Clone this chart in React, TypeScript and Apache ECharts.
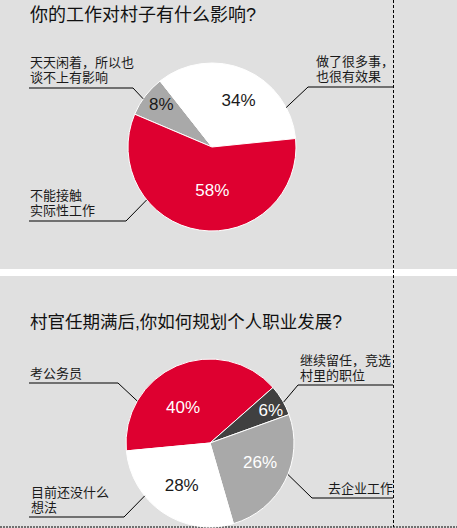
import { useEffect, useRef } from "react";
import * as echarts from "echarts";

// 第一题
const title1 = "你的工作对村子有什么影响?";
const names1 = ["天天闲着，所以也\n谈不上有影响", "做了很多事，\n也很有效果", "不能接触\n实际性工作"];
const values1 = [8, 34, 58];
const colors1 = ["#a9a9a9", "#ffffff", "#de0030"];
const pctColors1 = ["#1a1a1a", "#1a1a1a", "#ffffff"];

// 第二题
const title2 = "村官任期满后,你如何规划个人职业发展?";
const names2 = ["考公务员", "继续留任，竞选\n村里的职位", "去企业工作", "目前还没什么\n想法"];
const values2 = [40, 6, 26, 28];
const colors2 = ["#de0030", "#404040", "#a9a9a9", "#ffffff"];
const pctColors2 = ["#ffffff", "#ffffff", "#ffffff", "#1a1a1a"];

const FONT = '"Liberation Sans", "Noto Sans CJK SC", sans-serif';
const R = 84;

// 引线布局：锚点角度、折点、终点、文字左边位置与底边
const leaders1 = [
  { angle: 145, elbow: [133, 88], end: 29, x: 30, bottom: 85 },
  { angle: 28, elbow: [308, 87], end: 393, x: 316, bottom: 84 },
  { angle: 219, elbow: [126, 221], end: 29, x: 30, bottom: 218 },
];
const leaders2 = [
  { angle: 150, elbow: [118, 383], end: 29, x: 30, bottom: 381 },
  { angle: 29, elbow: [298, 385], end: 393, x: 300, bottom: 383 },
  { angle: -22, elbow: [312, 498], end: 393, x: 328, bottom: 496 },
  { angle: 219, elbow: [124, 517], end: 29, x: 31, bottom: 515 },
];
const pctOffsets1 = [[-15, -15], [9, -5], [7, -1]];
const pctOffsets2 = [[-9, 6], [22, -10], [10, -1], [-3, 5]];

function leaderLayout(center: number[], leaders: any[]) {
  return (p: any) => {
    const L = leaders[p.dataIndex];
    const a = (L.angle * Math.PI) / 180;
    const ax = center[0] + R * Math.cos(a);
    const ay = center[1] - R * Math.sin(a);
    return {
      x: L.x,
      y: L.bottom,
      align: "left",
      verticalAlign: "bottom",
      labelLinePoints: [[ax, ay], L.elbow, [L.end, L.elbow[1]]],
    };
  };
}

function pctLayout(offsets: number[][]) {
  return (p: any) => {
    const o = offsets[p.dataIndex];
    const r = p.labelRect;
    return {
      x: r.x + r.width / 2 + o[0],
      y: r.y + r.height / 2 + o[1],
      align: "center",
      verticalAlign: "middle",
    };
  };
}

function pieSeries(
  center: number[],
  startAngle: number,
  names: string[],
  values: number[],
  colors: string[],
  pctColors: string[],
  leaders: any[],
  offsets: number[][]
) {
  return [
    {
      type: "pie",
      center,
      radius: R,
      startAngle,
      clockwise: true,
      silent: true,
      avoidLabelOverlap: false,
      data: values.map((v, i) => ({
        name: names[i],
        value: v,
        itemStyle: { color: colors[i] },
        label: { color: pctColors[i] },
      })),
      itemStyle: { borderColor: "#ffffff", borderWidth: 1 },
      label: {
        show: true,
        position: "inside",
        formatter: "{c}%",
        fontSize: 17,
        fontFamily: FONT,
      },
      labelLine: { show: false },
      labelLayout: pctLayout(offsets),
    },
    {
      type: "pie",
      center,
      radius: R,
      startAngle,
      clockwise: true,
      silent: true,
      avoidLabelOverlap: false,
      z: 3,
      data: values.map((v, i) => ({ name: names[i], value: v })),
      itemStyle: { color: "rgba(0,0,0,0)" },
      label: {
        show: true,
        position: "outside",
        formatter: "{b}",
        color: "#1a1a1a",
        fontSize: 13,
        lineHeight: 15,
        fontFamily: FONT,
      },
      labelLine: {
        show: true,
        length: 10,
        length2: 10,
        lineStyle: { color: "#000000", width: 1 },
      },
      labelLayout: leaderLayout(center, leaders),
    },
  ];
}

export default function App() {
  const chartRef = useRef<HTMLDivElement>(null);

  useEffect(() => {
    if (!chartRef.current) return;
    const chart = echarts.init(chartRef.current, undefined, { renderer: "svg" });

    chart.setOption({
      animation: false,
      backgroundColor: "#e0e0e0",
      title: [
        {
          text: title1,
          left: 30,
          top: 6,
          padding: 0,
          textStyle: { fontSize: 18, fontWeight: "normal", color: "#111111", fontFamily: FONT },
        },
        {
          text: title2,
          left: 30,
          top: 313,
          padding: 0,
          textStyle: { fontSize: 17.5, fontWeight: "normal", color: "#111111", fontFamily: FONT },
        },
      ],
      graphic: [
        { type: "rect", shape: { x: 0, y: 269, width: 457, height: 7 }, style: { fill: "#ffffff" } },
        {
          type: "line",
          shape: { x1: 393.5, y1: 0, x2: 393.5, y2: 527 },
          style: { stroke: "#000000", lineWidth: 1, lineDash: [3, 2] },
        },
        {
          type: "line",
          shape: { x1: 0, y1: 527, x2: 457, y2: 527 },
          style: { stroke: "#000000", lineWidth: 1, lineDash: [2, 1] },
        },
      ],
      series: [
        ...pieSeries([212, 147], 157, names1, values1, colors1, pctColors1, leaders1, pctOffsets1),
        ...pieSeries([210, 443], 185.4, names2, values2, colors2, pctColors2, leaders2, pctOffsets2),
      ],
    });

    return () => {
      chart.dispose();
    };
  }, []);

  return (
    <div
      ref={chartRef}
      style={{ position: "absolute", left: 0, top: 0, width: 457, height: 528 }}
    />
  );
}
